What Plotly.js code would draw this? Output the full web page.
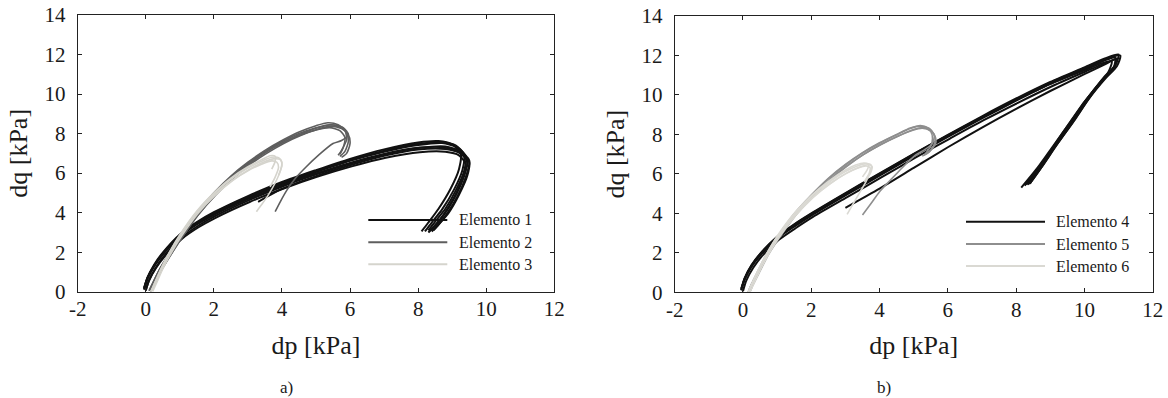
<!DOCTYPE html>
<html>
<head>
<meta charset="utf-8">
<script src="https://cdn.plot.ly/plotly-3.0.1.min.js"></script>
<style>html,body{margin:0;padding:0;background:#fff;}#chart{width:1168px;height:398px;}</style>
</head>
<body>
<div id="chart"></div>
<script>
// ---------- tick labels ----------
const xTickVals = [-2, 0, 2, 4, 6, 8, 10, 12];
const xTickText = ['-2', '0', '2', '4', '6', '8', '10', '12'];
const yTickVals = [0, 2, 4, 6, 8, 10, 12, 14];
const yTickText = ['0', '2', '4', '6', '8', '10', '12', '14'];

// ---------- legend names ----------
const namesA = ['Elemento 1', 'Elemento 2', 'Elemento 3'];
const namesB = ['Elemento 4', 'Elemento 5', 'Elemento 6'];
const panelLabels = ['a)', 'b)'];

// ---------- panel a) Elemento 1 (cycles) ----------
const el1X = [
  [-0.05,0.05,0.25,0.5,1.0,1.5,2.0,3.0,4.0,5.0,6.0,7.0,8.0,8.6,9.0,9.25,9.2,8.95,8.6,8.3,8.1],
  [-0.05,0.05,0.25,0.5,1.0,1.5,2.0,3.0,4.0,5.0,6.0,7.0,8.0,8.7,9.15,9.4,9.35,9.1,8.8,8.5,8.3],
  [0.0,0.1,0.3,0.55,1.05,1.55,2.05,3.05,4.05,5.05,6.05,7.05,8.05,8.8,9.25,9.5,9.45,9.2,8.9,8.6,8.4],
  [-0.05,0.05,0.25,0.5,1.0,1.5,2.0,3.0,4.0,5.0,6.0,7.0,8.0,8.75,9.2,9.45,9.35,9.1,8.8,8.55,8.35],
  [0.0,0.1,0.3,0.55,1.05,1.55,2.05,3.05,4.05,5.05,6.05,7.05,8.05,8.8,9.2,9.4,9.3,9.05,8.75,8.5,8.3],
  [-0.05,0.05,0.25,0.5,1.0,1.5,2.0,3.0,4.0,5.0,6.0,7.0,8.0,8.65,9.1,9.35,9.3,9.05,8.7,8.4,8.2],
  [3.3,4.0,5.0,6.0,7.0,8.0,8.8,9.25,9.5,9.4,9.15,8.85,8.6,8.45]
];
const el1Y = [
  [0.15,0.72,1.38,1.98,2.9,3.52,4.02,4.84,5.55,6.15,6.72,7.2,7.55,7.62,7.45,7.0,6.2,5.2,4.2,3.5,3.05],
  [0.1,0.66,1.31,1.91,2.83,3.45,3.94,4.75,5.45,6.05,6.62,7.08,7.42,7.52,7.3,6.85,6.1,5.1,4.2,3.55,3.1],
  [0.05,0.6,1.24,1.84,2.74,3.35,3.84,4.65,5.35,5.96,6.5,6.96,7.28,7.35,7.1,6.65,5.9,4.9,4.0,3.4,3.05],
  [0.2,0.68,1.3,1.88,2.78,3.4,3.88,4.68,5.38,5.98,6.52,6.97,7.28,7.3,7.05,6.6,5.85,4.85,4.0,3.45,3.1],
  [0.1,0.58,1.2,1.78,2.66,3.26,3.74,4.54,5.22,5.82,6.34,6.78,7.06,7.08,6.9,6.45,5.7,4.75,3.9,3.35,3.0],
  [0.15,0.7,1.34,1.94,2.86,3.48,3.98,4.79,5.5,6.1,6.66,7.13,7.48,7.56,7.4,6.95,6.15,5.15,4.15,3.5,3.05],
  [4.55,5.2,5.85,6.4,6.88,7.2,7.22,7.0,6.55,5.8,4.8,3.95,3.4,3.1]
];

// ---------- panel a) Elemento 2 ----------
const el2X = [
  [0.1,0.2,0.4,0.7,1.0,1.5,2.0,2.5,3.0,3.5,4.0,4.5,5.0,5.4,5.7,5.9,5.95,5.85,5.7],
  [0.15,0.25,0.45,0.75,1.05,1.55,2.05,2.55,3.05,3.55,4.05,4.55,5.05,5.45,5.75,5.95,6.0,5.9,5.75],
  [0.1,0.2,0.4,0.7,1.0,1.5,2.0,2.5,3.0,3.5,4.0,4.5,5.0,5.35,5.65,5.85,5.9,5.75,5.65],
  [0.1,0.2,0.4,0.7,1.0,1.5,2.0,2.5,3.0,3.5,4.0,4.5,5.0,5.4,5.7,5.85,5.8,5.7],
  [0.15,0.25,0.45,0.75,1.05,1.55,2.05,2.55,3.05,3.55,4.05,4.55,5.05,5.45,5.8,5.95,5.75,5.5,5.1,4.7,4.4,4.15,3.95,3.8]
];
const el2Y = [
  [0.05,0.4,1.1,1.95,2.75,3.95,4.95,5.8,6.5,7.1,7.6,8.0,8.3,8.45,8.35,8.05,7.6,7.1,6.85],
  [0.0,0.38,1.05,1.9,2.7,3.9,4.88,5.72,6.42,7.0,7.5,7.9,8.22,8.38,8.25,7.95,7.5,7.0,6.8],
  [0.05,0.42,1.12,1.98,2.78,4.0,5.0,5.85,6.55,7.15,7.65,8.08,8.4,8.55,8.45,8.15,7.7,7.15,6.9],
  [0.05,0.4,1.08,1.92,2.72,3.92,4.9,5.75,6.45,7.05,7.52,7.9,8.18,8.3,8.15,7.8,7.3,6.95],
  [0.0,0.4,1.08,1.92,2.72,3.92,4.92,5.78,6.48,7.08,7.58,7.98,8.3,8.45,8.3,7.95,7.65,7.5,6.95,6.3,5.75,5.15,4.55,4.05]
];

// ---------- panel a) Elemento 3 ----------
const el3X = [
  [0.15,0.25,0.45,0.7,1.0,1.5,2.0,2.5,3.0,3.4,3.7,3.9,4.0,3.95,3.8,3.6,3.4,3.25],
  [0.15,0.25,0.45,0.7,1.0,1.5,2.0,2.5,3.0,3.4,3.7,3.85,3.9,3.8,3.65],
  [0.2,0.3,0.5,0.75,1.05,1.55,2.05,2.55,3.05,3.45,3.75,3.95,4.0,3.9],
  [0.15,0.25,0.45,0.7,1.0,1.5,2.0,2.5,3.0,3.4,3.65,3.8,3.8,3.7]
];
const el3Y = [
  [0.0,0.38,1.15,2.0,2.85,4.05,4.95,5.68,6.25,6.6,6.8,6.78,6.55,6.1,5.5,4.9,4.4,4.05],
  [0.0,0.36,1.12,1.95,2.8,3.98,4.87,5.58,6.12,6.45,6.62,6.55,6.3,5.8,5.3],
  [0.0,0.38,1.15,1.97,2.82,4.0,4.9,5.62,6.2,6.55,6.72,6.68,6.4,5.9],
  [0.0,0.4,1.18,2.02,2.88,4.08,5.0,5.75,6.32,6.68,6.88,6.85,6.6,6.2]
];

// ---------- panel b) Elemento 4 ----------
const el4X = [
  [-0.05,0.05,0.25,0.5,1.0,1.5,2.0,3.0,4.0,5.0,6.0,7.0,8.0,9.0,10.0,10.6,11.0,10.9,10.6,10.1,9.6,9.1,8.6,8.15],
  [-0.05,0.05,0.25,0.5,1.0,1.5,2.0,3.0,4.0,5.0,6.0,7.0,8.0,9.0,10.0,10.55,10.9,10.85,10.55,10.1,9.65,9.15,8.7,8.3],
  [0.0,0.1,0.3,0.55,1.05,1.55,2.05,3.05,4.05,5.05,6.05,7.05,8.05,9.05,10.05,10.6,10.95,10.8,10.5,10.05,9.6,9.15,8.7,8.35],
  [-0.05,0.05,0.25,0.5,1.0,1.5,2.0,3.0,4.0,5.0,6.0,7.0,8.0,9.0,10.0,10.5,10.8,10.7,10.45,10.0,9.55,9.1,8.65,8.25],
  [-0.05,0.05,0.25,0.5,1.0,1.5,2.0,3.0,4.0,5.0,6.0,7.0,8.0,9.0,10.0,10.6,11.05,10.95,10.65,10.15,9.7,9.2,8.75,8.4],
  [3.0,4.0,5.0,6.0,7.0,8.0,9.0,10.0,10.6,10.95,10.85,10.55,10.1,9.65,9.2,8.75,8.4]
];
const el4Y = [
  [0.15,0.72,1.38,1.95,2.82,3.45,4.0,5.03,6.03,7.02,7.98,8.92,9.82,10.66,11.4,11.85,12.05,11.5,10.95,9.85,8.65,7.45,6.25,5.3],
  [0.1,0.65,1.3,1.86,2.72,3.33,3.89,4.91,5.91,6.91,7.87,8.81,9.71,10.56,11.3,11.72,11.9,11.35,10.8,9.8,8.7,7.5,6.35,5.45],
  [0.05,0.6,1.24,1.82,2.66,3.26,3.82,4.82,5.82,6.82,7.78,8.72,9.6,10.44,11.2,11.6,11.8,11.2,10.7,9.75,8.6,7.45,6.3,5.45],
  [0.2,0.68,1.33,1.9,2.76,3.38,3.94,4.96,5.96,6.96,7.92,8.86,9.74,10.56,11.25,11.6,11.7,11.15,10.6,9.65,8.55,7.4,6.25,5.4],
  [0.1,0.7,1.35,1.93,2.8,3.42,3.97,5.0,6.0,7.0,7.95,8.88,9.78,10.62,11.36,11.8,12.0,11.45,10.9,9.85,8.7,7.5,6.35,5.5],
  [4.28,5.25,6.3,7.35,8.35,9.3,10.2,11.05,11.55,11.85,11.3,10.75,9.75,8.6,7.5,6.35,5.5]
];

// ---------- panel b) Elemento 5 ----------
const el5X = [
  [0.15,0.25,0.45,0.7,1.0,1.5,2.0,2.5,3.0,3.5,4.0,4.5,4.9,5.2,5.45,5.6,5.65,5.5,5.3],
  [0.15,0.25,0.45,0.7,1.0,1.5,2.0,2.5,3.0,3.5,4.0,4.5,4.95,5.25,5.5,5.62,5.6,5.45,5.25],
  [0.2,0.3,0.5,0.75,1.05,1.55,2.05,2.55,3.05,3.55,4.05,4.55,5.0,5.3,5.5,5.55,5.5,5.35],
  [0.15,0.25,0.45,0.7,1.0,1.5,2.0,2.5,3.0,3.5,4.0,4.5,4.9,5.2,5.45,5.6,5.55,5.3,5.05,4.6,4.3,4.0,3.75,3.5]
];
const el5Y = [
  [0.0,0.4,1.1,1.95,2.75,3.95,4.9,5.75,6.45,7.05,7.55,7.98,8.3,8.42,8.3,8.0,7.6,7.2,6.95],
  [0.0,0.38,1.06,1.9,2.7,3.88,4.82,5.65,6.35,6.95,7.45,7.88,8.2,8.32,8.18,7.9,7.5,7.1,6.9],
  [0.0,0.4,1.08,1.92,2.72,3.92,4.86,5.7,6.4,7.0,7.5,7.92,8.25,8.35,8.15,7.8,7.4,7.05],
  [0.0,0.42,1.12,1.97,2.78,3.98,4.93,5.78,6.48,7.08,7.58,8.0,8.32,8.45,8.3,7.95,7.55,7.2,6.95,6.2,5.65,5.1,4.5,3.92]
];

// ---------- panel b) Elemento 6 ----------
const el6X = [
  [0.15,0.25,0.45,0.7,1.0,1.5,2.0,2.5,3.0,3.35,3.6,3.75,3.75,3.6,3.4,3.2,3.05],
  [0.15,0.25,0.45,0.7,1.0,1.5,2.0,2.5,3.0,3.35,3.6,3.72,3.7,3.55],
  [0.2,0.3,0.5,0.75,1.05,1.55,2.05,2.55,3.05,3.4,3.65,3.78,3.75,3.6],
  [0.15,0.25,0.45,0.7,1.0,1.5,2.0,2.5,3.0,3.3,3.55,3.68,3.65,3.5]
];
const el6Y = [
  [0.0,0.38,1.12,1.95,2.8,3.95,4.85,5.55,6.12,6.4,6.52,6.45,6.2,5.6,5.0,4.4,3.95],
  [0.0,0.36,1.08,1.9,2.74,3.88,4.76,5.45,6.0,6.28,6.4,6.32,6.05,5.6],
  [0.0,0.37,1.1,1.92,2.76,3.9,4.8,5.5,6.05,6.33,6.46,6.38,6.1,5.7],
  [0.0,0.4,1.14,1.98,2.84,4.0,4.9,5.62,6.2,6.45,6.55,6.48,6.25,5.85]
];

// ---------- build traces ----------
const colA = ['#111111', '#5e5e5e', '#d5d4cd'];
const colB = ['#111111', '#8e8e8e', '#dad9d3'];
const traces = [];
function addSet(xs, ys, color, xa, ya, w) {
  for (let i = 0; i < xs.length; i++) {
    traces.push({
      x: xs[i], y: ys[i], xaxis: xa, yaxis: ya, type: 'scatter', mode: 'lines',
      line: {color: color, width: w, shape: 'spline', smoothing: 0.7},
      hoverinfo: 'skip', showlegend: false
    });
  }
}
addSet(el1X, el1Y, colA[0], 'x', 'y', 2.0);
addSet(el2X, el2Y, colA[1], 'x', 'y', 1.6);
addSet(el3X, el3Y, colA[2], 'x', 'y', 1.6);
addSet(el4X, el4Y, colB[0], 'x2', 'y2', 2.0);
addSet(el5X, el5Y, colB[1], 'x2', 'y2', 1.6);
addSet(el6X, el6Y, colB[2], 'x2', 'y2', 1.6);

const FONT = '"Liberation Serif", "Times New Roman", serif';
const W = 1168, H = 398;

function xAxis(domain, anchor) {
  return {
    domain: domain, anchor: anchor, range: [-2, 12], autorange: false,
    tickmode: 'array', tickvals: xTickVals, ticktext: xTickText,
    ticks: 'inside', ticklen: 4, tickwidth: 1, tickcolor: '#222',
    showline: true, linecolor: '#222', linewidth: 1, mirror: 'ticks',
    showgrid: false, zeroline: false, automargin: false,
    ticklabelstandoff: -2,
    tickfont: {family: FONT, size: 21, color: '#1a1a1a'},
    title: {text: 'dp [kPa]', font: {family: FONT, size: 26, color: '#1a1a1a'}, standoff: 15}
  };
}
function yAxis(domain, anchor) {
  return {
    domain: domain, anchor: anchor, range: [0, 14], autorange: false,
    tickmode: 'array', tickvals: yTickVals, ticktext: yTickText,
    ticks: 'inside', ticklen: 4, tickwidth: 1, tickcolor: '#222',
    showline: true, linecolor: '#222', linewidth: 1, mirror: 'ticks',
    showgrid: false, zeroline: false, automargin: false,
    ticklabelstandoff: 7,
    tickfont: {family: FONT, size: 21, color: '#1a1a1a'},
    title: {text: 'dq [kPa]', font: {family: FONT, size: 26, color: '#1a1a1a'}, standoff: 9}
  };
}

// custom legends (long line samples as in the reference)
const shapes = [];
const annotations = [];
const legA = {x0: 368.3, x1: 447.3, tx: 456.7, ys: [220, 242.3, 264.3]};
const legB = {x0: 966, x1: 1045, tx: 1054, ys: [221.7, 244, 266]};
function addLegend(leg, names, cols) {
  for (let i = 0; i < names.length; i++) {
    shapes.push({type: 'line', xref: 'paper', yref: 'paper',
      x0: leg.x0 / W, x1: leg.x1 / W, y0: 1 - leg.ys[i] / H, y1: 1 - leg.ys[i] / H,
      line: {color: cols[i], width: 2}});
    annotations.push({xref: 'paper', yref: 'paper', x: leg.tx / W, y: 1 - leg.ys[i] / H,
      xanchor: 'left', yanchor: 'middle', showarrow: false, text: names[i],
      font: {family: FONT, size: 16, color: '#1a1a1a'}});
  }
}
addLegend(legA, namesA, colA);
addLegend(legB, namesB, colB);
annotations.push({xref: 'paper', yref: 'paper', x: 286 / W, y: 1 - 387 / H, xanchor: 'center', yanchor: 'middle',
  showarrow: false, text: panelLabels[0], font: {family: FONT, size: 17, color: '#1a1a1a'}});
annotations.push({xref: 'paper', yref: 'paper', x: 884 / W, y: 1 - 387 / H, xanchor: 'center', yanchor: 'middle',
  showarrow: false, text: panelLabels[1], font: {family: FONT, size: 17, color: '#1a1a1a'}});

const layout = {
  width: W, height: H,
  margin: {l: 0, r: 0, t: 0, b: 0},
  paper_bgcolor: '#ffffff', plot_bgcolor: '#ffffff',
  showlegend: false,
  font: {family: FONT},
  xaxis: xAxis([77.7 / W, 554.3 / W], 'y'),
  yaxis: yAxis([1 - 291.7 / H, 1 - 15 / H], 'x'),
  xaxis2: xAxis([674.7 / W, 1152.7 / W], 'y2'),
  yaxis2: yAxis([1 - 292.3 / H, 1 - 16 / H], 'x2'),
  shapes: shapes,
  annotations: annotations
};

Plotly.newPlot('chart', traces, layout, {staticPlot: true, displayModeBar: false});
</script>
</body>
</html>
